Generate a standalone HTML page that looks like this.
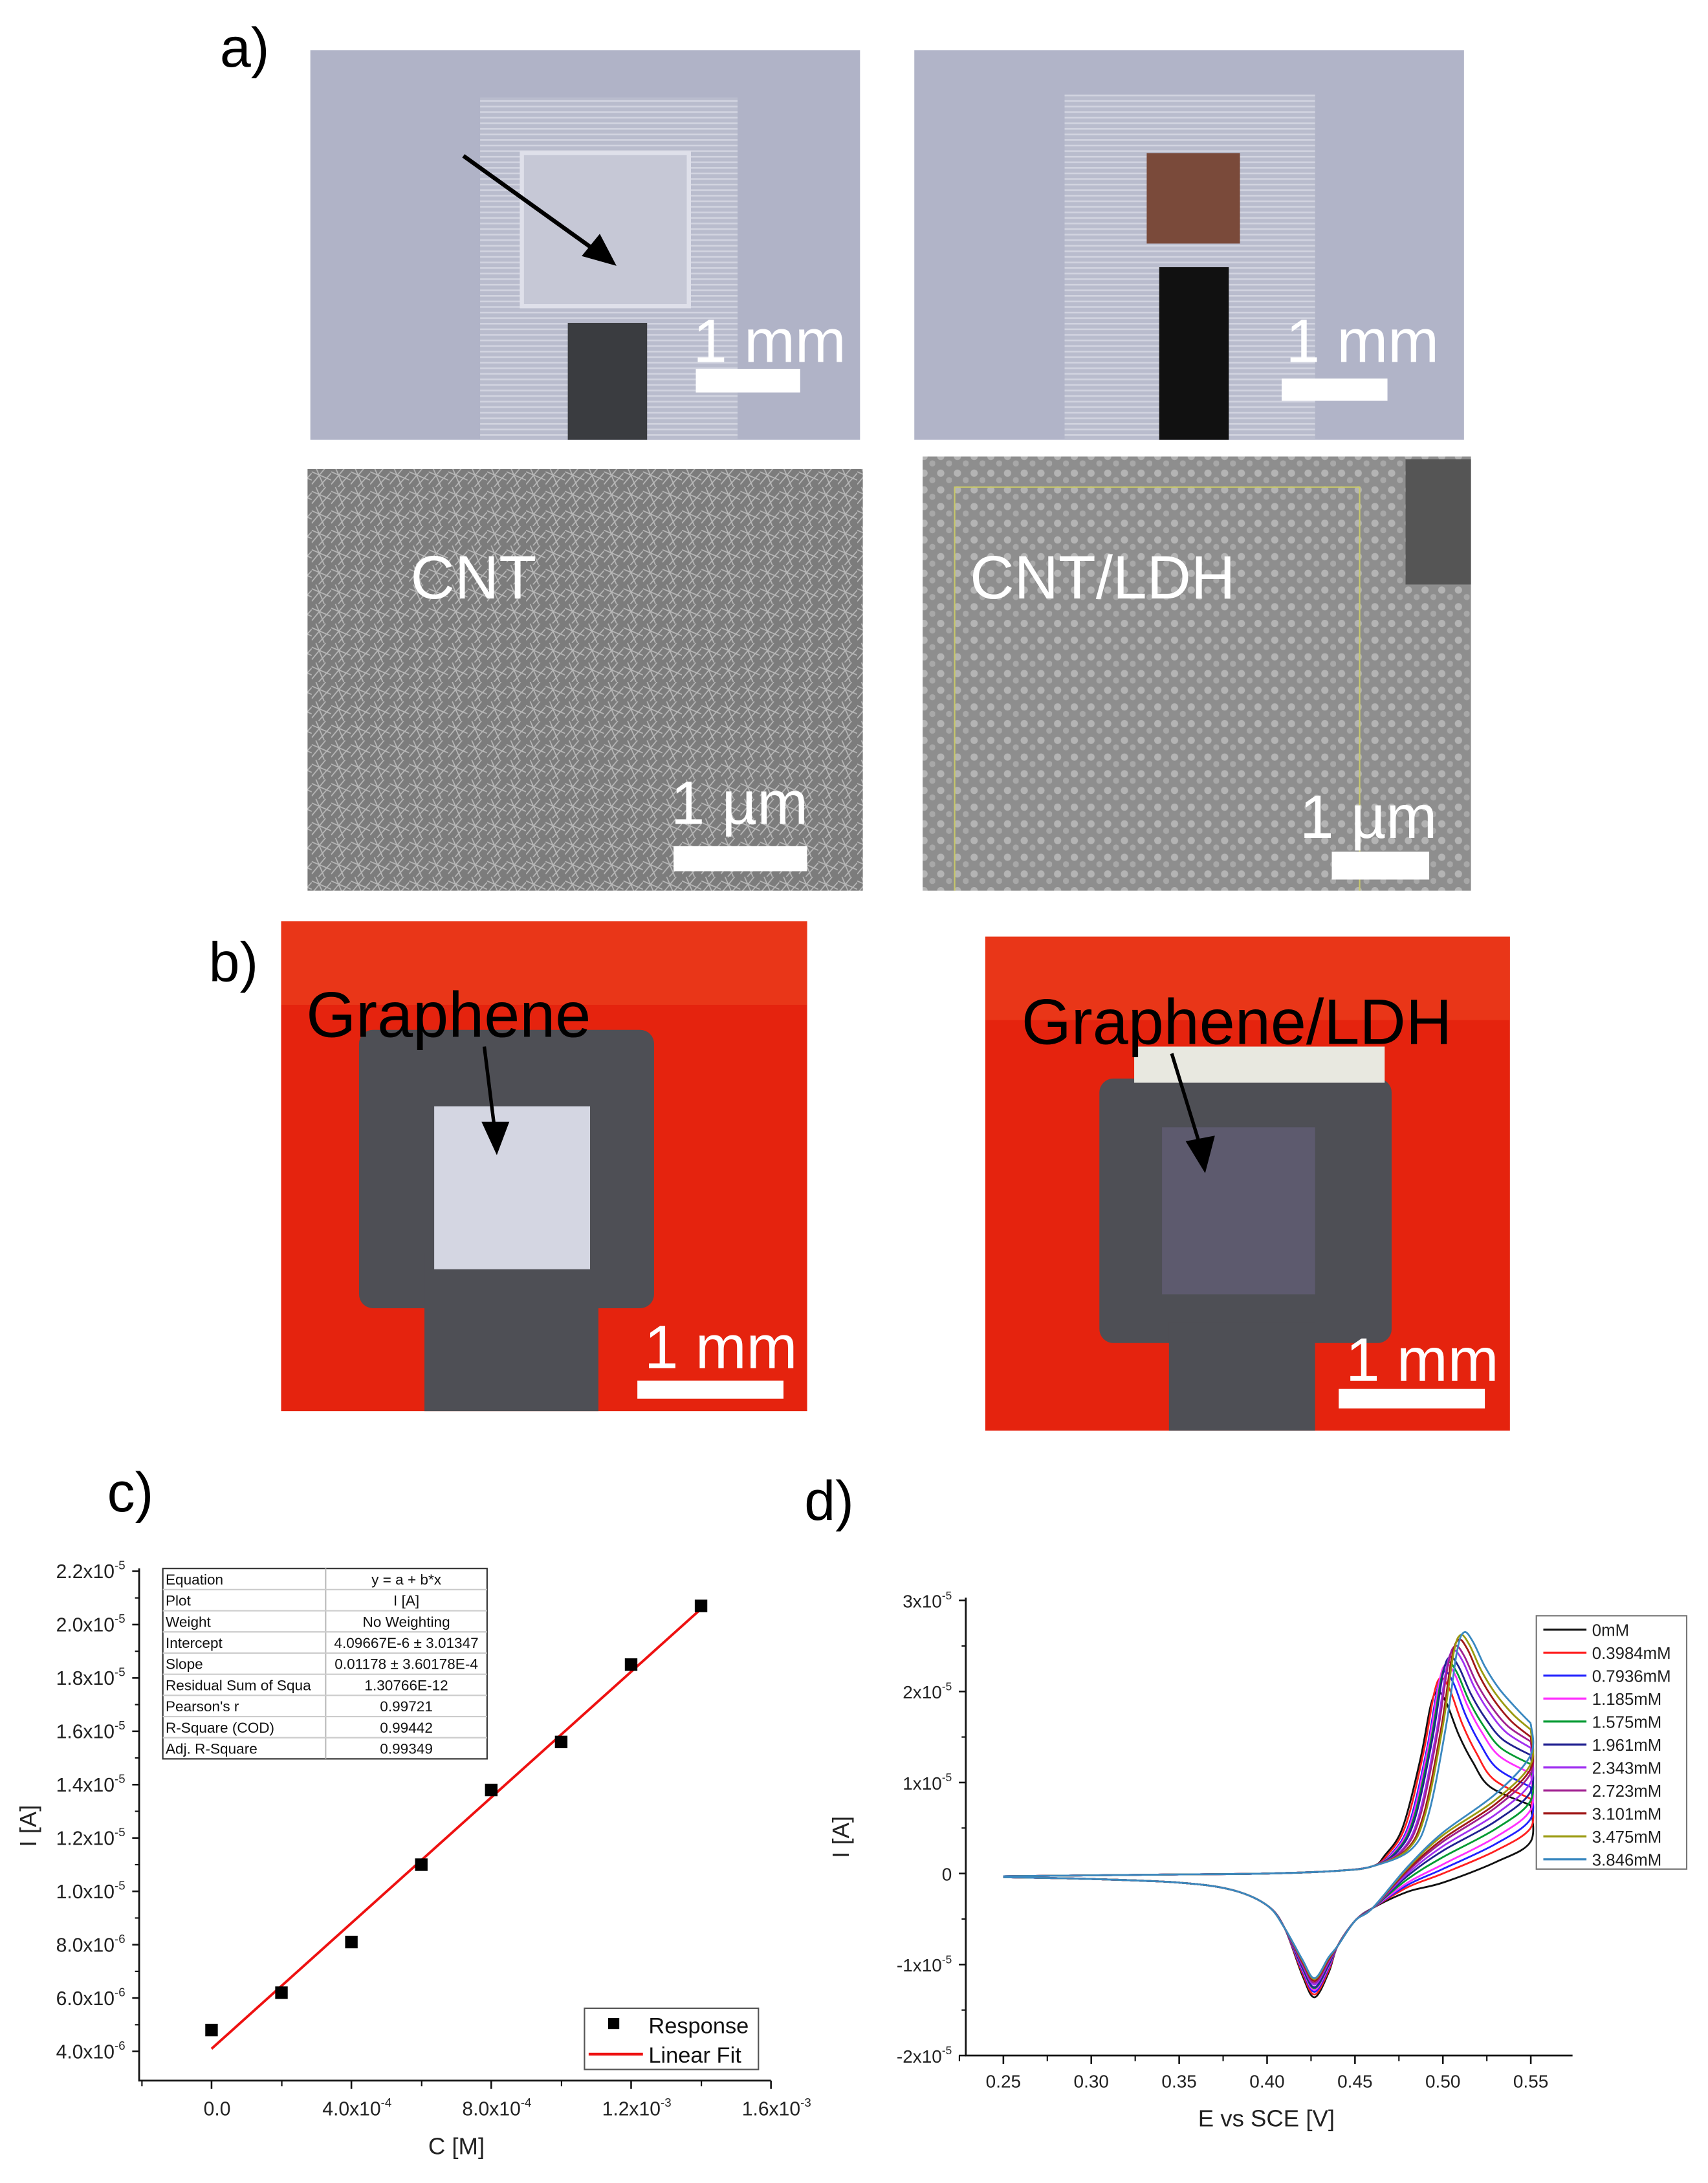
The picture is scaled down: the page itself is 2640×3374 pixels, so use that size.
<!DOCTYPE html>
<html><head><meta charset="utf-8">
<style>
html,body{margin:0;padding:0;background:#fff;}
svg{display:block;font-family:"Liberation Sans",Arial,sans-serif;}
</style></head>
<body>
<svg id="fig" width="2640" height="3374" viewBox="0 0 2640 3374" xmlns="http://www.w3.org/2000/svg">
<defs>
<pattern id="cntTex" width="14" height="14" patternUnits="userSpaceOnUse">
<rect width="14" height="14" fill="#7c7c7c"/>
<path d="M0 3 L14 9 M3 0 L9 14 M0 12 L10 0 M5 14 L14 4" stroke="#b8b8b8" stroke-width="0.8"/>
</pattern>
<pattern id="ldhTex" width="12" height="12" patternUnits="userSpaceOnUse">
<rect width="12" height="12" fill="#8e8e8e"/>
<circle cx="4" cy="4" r="2.6" fill="#b4b4b4"/><circle cx="10" cy="9" r="2.2" fill="#a8a8a8"/>
</pattern>
<pattern id="ridges" width="6" height="4" patternUnits="userSpaceOnUse">
<rect width="6" height="4" fill="#b9bccd"/><rect width="6" height="1.2" fill="#d2d4e0"/>
</pattern>
</defs>
<g transform="scale(2.151)">
<text x="158" y="48" font-size="40">a)</text>
<g>
<rect x="223" y="36" width="395" height="280" fill="#b0b3c7"/>
<rect x="345" y="70" width="185" height="246" fill="url(#ridges)"/>
<rect x="375" y="110" width="120" height="110" fill="#c6c8d6" stroke="#dfe0ea" stroke-width="3"/>
<rect x="408" y="232" width="57" height="84" fill="#3a3c40"/>
<line x1="333" y1="112" x2="432" y2="183" stroke="#000" stroke-width="3"/>
<polygon points="443,191 418,184 431,168" fill="#000"/>
<rect x="500" y="265" width="75" height="17" fill="#fff"/>
<text x="498" y="260" font-size="44" fill="#fff">1 mm</text>
</g>
<g>
<rect x="657" y="36" width="395" height="280" fill="#b1b4c8"/>
<rect x="765" y="68" width="180" height="248" fill="url(#ridges)"/>
<rect x="824" y="110" width="67" height="65" fill="#7a4a3a"/>
<rect x="833" y="192" width="50" height="124" fill="#111"/>
<rect x="921" y="272" width="76" height="16" fill="#fff"/>
<text x="924" y="260" font-size="44" fill="#fff">1 mm</text>
</g>
<g>
<rect x="221" y="337" width="399" height="303" fill="url(#cntTex)"/>
<text x="295" y="430" font-size="44" fill="#fff">CNT</text>
<rect x="484" y="608" width="96" height="18" fill="#fff"/>
<text x="482" y="592" font-size="44" fill="#fff">1 µm</text>
</g>
<g>
<rect x="663" y="328" width="394" height="312" fill="url(#ldhTex)"/>
<rect x="1010" y="330" width="47" height="90" fill="#555"/>
<polyline points="686,640 686,350 977,350 977,640" fill="none" stroke="#c8c86a" stroke-width="1"/>
<text x="697" y="430" font-size="44" fill="#fff">CNT/LDH</text>
<rect x="957" y="612" width="70" height="20" fill="#fff"/>
<text x="934" y="602" font-size="44" fill="#fff">1 µm</text>
</g>
<text x="150" y="705" font-size="40">b)</text>
<g>
<rect x="202" y="662" width="378" height="352" fill="#e5230e"/>
<rect x="202" y="662" width="378" height="60" fill="#ee4a22" opacity="0.5"/>
<rect x="258" y="740" width="212" height="200" rx="10" fill="#4e4f55"/>
<rect x="305" y="900" width="125" height="114" fill="#4e4f55"/>
<rect x="312" y="795" width="112" height="117" fill="#d4d6e2"/>
<text x="220" y="745" font-size="46" fill="#000">Graphene</text>
<line x1="348" y1="752" x2="355" y2="808" stroke="#000" stroke-width="2.5"/>
<polygon points="357,830 346,806 366,806" fill="#000"/>
<rect x="458" y="992" width="105" height="13" fill="#fff"/>
<text x="463" y="983" font-size="44" fill="#fff">1 mm</text>
</g>
<g>
<rect x="708" y="673" width="377" height="355" fill="#e5230e"/>
<rect x="708" y="673" width="377" height="60" fill="#ee4a22" opacity="0.5"/>
<rect x="790" y="775" width="210" height="190" rx="10" fill="#4e4f55"/>
<rect x="840" y="950" width="105" height="78" fill="#4e4f55"/>
<rect x="815" y="752" width="180" height="26" fill="#e8e8e0"/>
<rect x="835" y="810" width="110" height="120" fill="#5d5a6e"/>
<text x="734" y="750" font-size="46" fill="#000">Graphene/LDH</text>
<line x1="842" y1="757" x2="862" y2="822" stroke="#000" stroke-width="2.5"/>
<polygon points="866,843 852,820 873,816" fill="#000"/>
<rect x="962" y="998" width="105" height="14" fill="#fff"/>
<text x="967" y="992" font-size="44" fill="#fff">1 mm</text>
</g>
<text x="77" y="1086" font-size="40">c)</text>
<g id="chartC"></g>
<text x="578" y="1092" font-size="40">d)</text>
<g id="chartD"></g>
</g>
</svg>
<script>
// ---- Chart c data ----
const concM = [0, 2e-4, 4e-4, 6e-4, 8e-4, 1.0e-3, 1.2e-3, 1.4e-3];
const responseA = [4.8e-6, 6.2e-6, 8.1e-6, 11.0e-6, 13.8e-6, 15.6e-6, 18.5e-6, 20.7e-6];
const fitIntercept = 4.09667e-6;
const fitSlope = 0.01178;
const cYTicks = [4e-6, 6e-6, 8e-6, 1e-5, 1.2e-5, 1.4e-5, 1.6e-5, 1.8e-5, 2.0e-5, 2.2e-5];
const cYTickLabels = [["4.0x10","-6"],["6.0x10","-6"],["8.0x10","-6"],["1.0x10","-5"],["1.2x10","-5"],["1.4x10","-5"],["1.6x10","-5"],["1.8x10","-5"],["2.0x10","-5"],["2.2x10","-5"]];
const cXTicks = [0, 4e-4, 8e-4, 1.2e-3, 1.6e-3];
const cXTickLabels = [["0.0",""],["4.0x10","-4"],["8.0x10","-4"],["1.2x10","-3"],["1.6x10","-3"]];
const tableRows = [["Equation","y = a + b*x"],["Plot","I [A]"],["Weight","No Weighting"],["Intercept","4.09667E-6 ± 3.01347"],["Slope","0.01178 ± 3.60178E-4"],["Residual Sum of Squa","1.30766E-12"],["Pearson's r","0.99721"],["R-Square (COD)","0.99442"],["Adj. R-Square","0.99349"]];

// ---- Chart d data (current in units of 1e-5 A) ----
const seriesNames = ["0mM","0.3984mM","0.7936mM","1.185mM","1.575mM","1.961mM","2.343mM","2.723mM","3.101mM","3.475mM","3.846mM"];
const seriesColors = ["#111111","#ff2020","#2020ff","#ff30ff","#009a30","#202090","#a030f0","#a02090","#a01818","#9a9a10","#3a88c0"];
const oxPeakE = [0.497,0.499,0.501,0.502,0.503,0.504,0.506,0.507,0.509,0.510,0.512];
const oxPeakI = [2.00,2.15,2.22,2.30,2.32,2.38,2.45,2.50,2.57,2.62,2.65];
const fwdEndI = [0.75,0.82,0.95,1.10,1.20,1.30,1.38,1.45,1.50,1.58,1.65];
const revStartI = [0.35,0.50,0.60,0.70,0.80,0.90,1.00,1.10,1.15,1.20,1.30];
const revAt050I = [-0.10,0.00,0.05,0.10,0.18,0.25,0.30,0.35,0.38,0.42,0.45];
const redPeakI = [-1.36,-1.33,-1.30,-1.28,-1.26,-1.25,-1.22,-1.20,-1.18,-1.16,-1.15];
const dYTicks = [-2e-5,-1e-5,0,1e-5,2e-5,3e-5];
const dYTickLabels = [["-2x10","-5"],["-1x10","-5"],["0",""],["1x10","-5"],["2x10","-5"],["3x10","-5"]];
const dXTicks = [0.25,0.30,0.35,0.40,0.45,0.50,0.55];
const dXTickLabels = ["0.25","0.30","0.35","0.40","0.45","0.50","0.55"];

const NS = "http://www.w3.org/2000/svg";
function mk(parent, tag, attrs, text) {
  const el = document.createElementNS(NS, tag);
  for (const k in attrs) el.setAttribute(k, attrs[k]);
  if (text !== undefined) el.textContent = text;
  parent.appendChild(el);
  return el;
}
function supLabel(parent, x, y, base, exp, size, anchor) {
  const t = mk(parent, "text", {x: x, y: y, "font-size": size, "text-anchor": anchor, fill: "#222"});
  const s1 = document.createElementNS(NS, "tspan"); s1.textContent = base; t.appendChild(s1);
  if (exp) {
    const s2 = document.createElementNS(NS, "tspan");
    s2.setAttribute("dy", -size * 0.45); s2.setAttribute("font-size", size * 0.62);
    s2.textContent = exp; t.appendChild(s2);
  }
  return t;
}

(function () {
  const g = document.getElementById("chartC");
  const xS = v => 152 + v / 1.6e-3 * 402;
  const yS = v => 1474 - (v - 4e-6) / 1.8e-5 * 345;
  const ax = mk(g, "path", {d: "M100 1127 V1495 H554", fill: "none", stroke: "#111", "stroke-width": 1.3});
  
  
  cYTicks.forEach((v, i) => {
    const y = yS(v);
    mk(g, "line", {x1: 100, x2: 95, y1: y, y2: y, stroke: "#111", "stroke-width": 1.2});
    const l = supLabel(g, 90, y + 5, cYTickLabels[i][0], cYTickLabels[i][1], 14, "end");
    
    
  });
  for (let i = 0; i < cYTicks.length; i++) {
    const y = yS(cYTicks[i] + 1e-6);
    if (y > 1127) mk(g, "line", {x1: 100, x2: 97, y1: y, y2: y, stroke: "#111", "stroke-width": 1});
  }
  cXTicks.forEach((v, i) => {
    const x = xS(v);
    mk(g, "line", {x1: x, x2: x, y1: 1495, y2: 1501, stroke: "#111", "stroke-width": 1.2});
    mk(g, "line", {x1: x - 50, x2: x - 50, y1: 1495, y2: 1499, stroke: "#111", "stroke-width": 1});
    const l = supLabel(g, x + 4, 1520, cXTickLabels[i][0], cXTickLabels[i][1], 14, "middle");
    
    
  });
  const xt = mk(g, "text", {x: 328, y: 1548, "font-size": 17, "text-anchor": "middle", fill: "#222"}, "C [M]");
  
  
  const yt = mk(g, "text", {x: 26, y: 1312, "font-size": 17, "text-anchor": "middle", fill: "#222", transform: "rotate(-90 26 1312)"}, "I [A]");
  
  
  const x0 = concM[0], x1 = concM[concM.length - 1];
  const fit = mk(g, "line", {x1: xS(x0), y1: yS(fitIntercept + fitSlope * x0), x2: xS(x1), y2: yS(fitIntercept + fitSlope * x1), stroke: "#ee1111", "stroke-width": 1.8});
  
  
  concM.forEach((c, i) => {
    const p = mk(g, "rect", {x: xS(c) - 4.5, y: yS(responseA[i]) - 4.5, width: 9, height: 9, fill: "#000"});
    
    
  });
  const tb = mk(g, "g", {});
  
  
  const rh = 15.2;
  mk(tb, "rect", {x: 117, y: 1127, width: 233, height: rh * 9, fill: "#fff", stroke: "#333", "stroke-width": 1});
  mk(tb, "line", {x1: 234, x2: 234, y1: 1127, y2: 1127 + rh * 9, stroke: "#bbb", "stroke-width": 1});
  tableRows.forEach((r, i) => {
    const y = 1127 + rh * i;
    if (i > 0) mk(tb, "line", {x1: 117, x2: 350, y1: y, y2: y, stroke: "#ccc", "stroke-width": 1});
    mk(tb, "text", {x: 119, y: y + 11.5, "font-size": 10.5, fill: "#111"}, r[0]);
    mk(tb, "text", {x: 292, y: y + 11.5, "font-size": 10.5, fill: "#111", "text-anchor": "middle"}, r[1]);
  });
  const lg = mk(g, "g", {});
  
  
  mk(lg, "rect", {x: 420, y: 1443, width: 125, height: 44, fill: "#fff", stroke: "#555", "stroke-width": 1});
  mk(lg, "rect", {x: 437, y: 1450, width: 8, height: 8, fill: "#000"});
  mk(lg, "text", {x: 466, y: 1461, "font-size": 16, fill: "#111"}, "Response");
  mk(lg, "line", {x1: 423, x2: 462, y1: 1476, y2: 1476, stroke: "#ee1111", "stroke-width": 2});
  mk(lg, "text", {x: 466, y: 1482, "font-size": 16, fill: "#111"}, "Linear Fit");
})();

(function () {
  const g = document.getElementById("chartD");
  const xS = v => 721 + (v - 0.25) / 0.3 * 379;
  const yS = v => 1150 + (3e-5 - v) / 5e-5 * 327;
  const yU = u => yS(u * 1e-5);
  const ax = mk(g, "path", {d: "M694 1148 V1477 H1130", fill: "none", stroke: "#111", "stroke-width": 1.3});
  
  
  dYTicks.forEach((v, i) => {
    const y = yS(v);
    mk(g, "line", {x1: 694, x2: 689, y1: y, y2: y, stroke: "#111", "stroke-width": 1.2});
    if (i < dYTicks.length - 1) { const ym = yS(v + 5e-6); mk(g, "line", {x1: 694, x2: 691, y1: ym, y2: ym, stroke: "#111", "stroke-width": 1}); }
    const l = supLabel(g, 684, y + 5, dYTickLabels[i][0], dYTickLabels[i][1], 13, "end");
    
    
  });
  dXTicks.forEach((v, i) => {
    const x = xS(v);
    mk(g, "line", {x1: x, x2: x, y1: 1477, y2: 1483, stroke: "#111", "stroke-width": 1.2});
    const xm = xS(v + 0.025); if (xm < 1130) mk(g, "line", {x1: xm, x2: xm, y1: 1477, y2: 1481, stroke: "#111", "stroke-width": 1});
    const l = mk(g, "text", {x: x, y: 1500, "font-size": 13, "text-anchor": "middle", fill: "#222"}, dXTickLabels[i]);
    
    
  });
  mk(g, "line", {x1: xS(0.225), x2: xS(0.225), y1: 1477, y2: 1481, stroke: "#111", "stroke-width": 1});
  const xt = mk(g, "text", {x: 910, y: 1528, "font-size": 17, "text-anchor": "middle", fill: "#222"}, "E vs SCE [V]");
  
  
  const yt = mk(g, "text", {x: 610, y: 1320, "font-size": 17, "text-anchor": "middle", fill: "#222", transform: "rotate(-90 610 1320)"}, "I [A]");
  
  

  function smooth(pts) {
    let d = "M" + pts[0][0].toFixed(2) + " " + pts[0][1].toFixed(2);
    for (let i = 0; i < pts.length - 1; i++) {
      const p0 = pts[Math.max(0, i - 1)], p1 = pts[i], p2 = pts[i + 1], p3 = pts[Math.min(pts.length - 1, i + 2)];
      const c1 = [p1[0] + (p2[0] - p0[0]) / 6, p1[1] + (p2[1] - p0[1]) / 6];
      const c2 = [p2[0] - (p3[0] - p1[0]) / 6, p2[1] - (p3[1] - p1[1]) / 6];
      d += " C" + c1.map(n => n.toFixed(2)).join(" ") + " " + c2.map(n => n.toFixed(2)).join(" ") + " " + p2[0].toFixed(2) + " " + p2[1].toFixed(2);
    }
    return d;
  }
  seriesNames.forEach((name, i) => {
    const pE = oxPeakE[i], pI = oxPeakI[i], eI = fwdEndI[i], rs = revStartI[i], r5 = revAt050I[i], rp = redPeakI[i];
    const fwd = [[0.25,-0.03],[0.30,-0.02],[0.35,-0.01],[0.40,0],[0.44,0.03],[0.46,0.08],
      [pE-0.03,0.1*pI],[pE-0.02,0.25*pI],[pE-0.01,0.62*pI],[pE-0.004,0.92*pI],[pE,pI],
      [pE+0.005,eI+(pI-eI)*0.9],[pE+0.012,eI+(pI-eI)*0.62],[pE+0.02,eI+(pI-eI)*0.38],[pE+0.03,eI+(pI-eI)*0.16],[0.55,eI]];
    const rev = [[0.55,eI],[0.5499,rs],[0.53,r5+(rs-r5)*0.5],[0.50,r5],[0.48,r5*0.5-0.15],[0.46,-0.38],[0.45,-0.52],
      [0.44,-0.8],[0.435,rp*0.8],[0.427,rp],[0.42,rp*0.82],[0.41,-0.6],[0.40,-0.35],[0.38,-0.18],[0.35,-0.1],[0.30,-0.06],[0.25,-0.04]];
    const d = smooth(fwd.map(p => [xS(p[0]), yU(p[1])])) + " " + smooth(rev.map(p => [xS(p[0]), yU(p[1])]));
    const path = mk(g, "path", {d: d, fill: "none", stroke: seriesColors[i], "stroke-width": 1.3});
    
    
  });
  const lg = mk(g, "g", {});
  
  
  mk(lg, "rect", {x: 1104, y: 1161, width: 108, height: 182, fill: "#fff", stroke: "#777", "stroke-width": 1});
  seriesNames.forEach((name, i) => {
    const y = 1171 + i * 16.5;
    mk(lg, "line", {x1: 1109, x2: 1140, y1: y, y2: y, stroke: seriesColors[i], "stroke-width": 1.5});
    const t = mk(lg, "text", {x: 1144, y: y + 4.5, "font-size": 12, fill: "#222"}, name);
    
    
  });
})();
</script>
</body></html>
